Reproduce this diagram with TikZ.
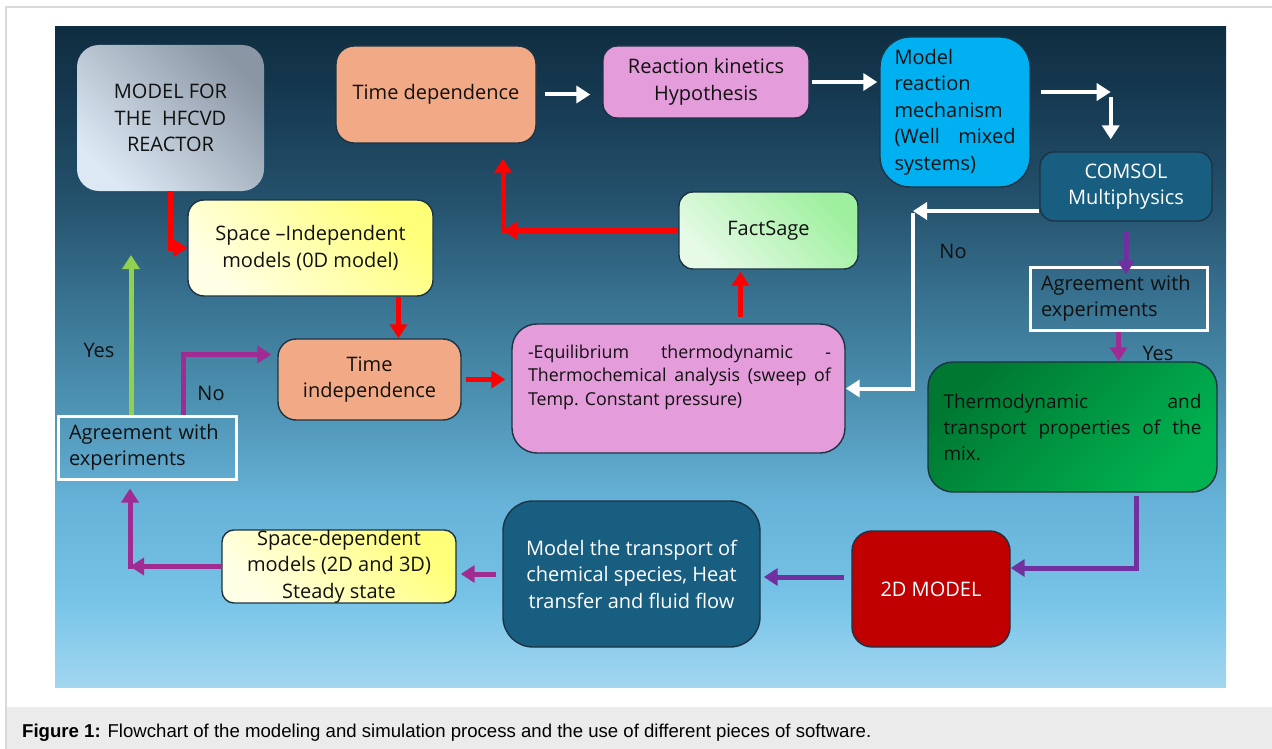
\documentclass[tikz,border=0pt]{standalone}
\usepackage{fontspec}
\setmainfont{Open Sans}
\newfontfamily\capfont{Liberation Sans}
\usetikzlibrary{arrows.meta}
\definecolor{navyline}{HTML}{1C3344}
\definecolor{salmon}{HTML}{F2A985}
\definecolor{orchid}{HTML}{E49CDB}
\definecolor{cyanbox}{HTML}{00B0F0}
\definecolor{tealbox}{HTML}{185E80}
\definecolor{darkred}{HTML}{C00000}
\definecolor{arrred}{HTML}{FF0000}
\definecolor{purp}{HTML}{7030A0}
\definecolor{magp}{HTML}{A02B93}
\definecolor{lgreen}{HTML}{92D050}
\definecolor{bg0}{HTML}{A2D6F0}
\definecolor{bg1}{HTML}{78C4E8}
\definecolor{bg2}{HTML}{66B2D8}
\definecolor{bg3}{HTML}{4C90B0}
\definecolor{bg4}{HTML}{387290}
\definecolor{bg5}{HTML}{24516C}
\definecolor{bg6}{HTML}{163A52}
\definecolor{bg7}{HTML}{0F2D40}
\definecolor{capgrey}{HTML}{EBEBEB}
\definecolor{framegrey}{HTML}{D9D9D9}
\definecolor{txt}{HTML}{111111}
\definecolor{hfdark}{HTML}{8A96A3}
\definecolor{hflight}{HTML}{DCE9F5}
\pgfdeclareverticalshading{bgshade}{100bp}{color(0bp)=(bg0); color(25bp)=(bg0); color(31.5bp)=(bg1); color(39bp)=(bg2); color(47bp)=(bg3); color(54.5bp)=(bg4); color(62bp)=(bg5); color(69.5bp)=(bg6); color(75bp)=(bg7); color(100bp)=(bg7)}
\tikzset{
  every node/.style={font=\fontsize{20}{26.5}\selectfont, text=txt},
  box/.style={draw=navyline, line width=1.4pt, inner sep=0pt, align=center},
  agbox/.style={draw=white, line width=3pt, inner sep=0pt},
  tip/.style={-{Triangle[width=17pt,length=14pt]}},
  rarr/.style={tip, draw=arrred, line width=5pt},
  warr/.style={tip, draw=white, line width=4pt},
  parr/.style={tip, draw=purp, line width=5pt},
  marr/.style={tip, draw=magp, line width=5pt},
  garr/.style={tip, draw=lgreen, line width=5pt},
  lbl/.style={font=\fontsize{20}{22}\selectfont},
}
\begin{document}
\begin{tikzpicture}[x=1pt,y=-1pt]
\useasboundingbox (0,0) rectangle (1272,749);
\fill[white] (0,0) rectangle (1272,749);
\fill[capgrey] (7,707) rectangle (1272,749);
\draw[framegrey, line width=1.5pt] (1272,7) -- (6,7) -- (6,749);
\shade[shading=bgshade] (55,27) rectangle (1226,687);

% nodes
\node[inner sep=0pt, rounded corners=22pt, minimum width=187pt, minimum height=146pt,
      top color=hfdark, bottom color=hflight, shading angle=-45,
      align=center] (hf) at (170.5,118) {MODEL FOR\\THE\ \ HFCVD\\REACTOR};
\node[box, rounded corners=18pt, fill=salmon, minimum width=200pt, minimum height=97pt] (td) at (436,94.5) {Time dependence};
\node[box, rounded corners=14pt, fill=orchid, minimum width=206pt, minimum height=72pt] (rk) at (706,82) {Reaction kinetics\\Hypothesis};
\node[box, rounded corners=30pt, fill=cyanbox, minimum width=150pt, minimum height=150pt] (mr) at (955,112) {};
\node[text width=121pt, align=justify, inner sep=0pt] (mrt) at (mr.center) {Model\linebreak reaction\linebreak mechanism\linebreak (Well mixed\linebreak systems)};
\node[box, rounded corners=14pt, fill=tealbox, minimum width=172pt, minimum height=69pt, text=white] (cs) at (1126,186.5) {COMSOL\\Multiphysics};
\node[box, rounded corners=14pt, minimum width=179pt, minimum height=77pt,
      top color={rgb,255:red,158;green,240;blue,158}, bottom color={rgb,255:red,230;green,250;blue,230}, shading angle=-45] (fs) at (768.5,230.5) {FactSage};
\node[box, rounded corners=16pt, minimum width=245pt, minimum height=96pt,
      top color={rgb,255:red,255;green,255;blue,120}, bottom color={rgb,255:red,255;green,255;blue,230}, shading angle=-45] (si) at (310.5,248) {Space –Independent\\models (0D model)};
\node[agbox, minimum width=177pt, minimum height=63pt] (agR) at (1118.5,298.5) {};
\node[text width=155pt, align=left, inner sep=0pt] (agRt) at (agR.center) {Agreement with\\experiments};
\node[box, rounded corners=18pt, fill=salmon, minimum width=183pt, minimum height=81pt] (ti) at (369.5,379.5) {Time\\independence};
\node[box, rounded corners=25pt, fill=orchid, minimum width=333pt, minimum height=129pt] (eq) at (678.5,388.5) {};
\node[text width=303pt, align=justify, inner sep=0pt, font=\fontsize{17.8}{23.5}\selectfont] (eqt) at (679.5,377) {-Equilibrium thermodynamic -\linebreak Thermochemical analysis (sweep of\linebreak Temp. Constant pressure)};
\node[agbox, minimum width=178pt, minimum height=63pt] (agL) at (147,447.5) {};
\node[text width=156pt, align=left, inner sep=0pt] (agLt) at (agL.center) {Agreement with\\experiments};
\node[box, rounded corners=25pt, minimum width=289pt, minimum height=130pt,
      top color={rgb,255:red,0;green,120;blue,50}, bottom color={rgb,255:red,0;green,178;blue,80}, shading angle=45] (th) at (1072.5,427) {};
\node[text width=258pt, align=justify, inner sep=0pt, font=\fontsize{19}{26}\selectfont] (tht) at (th.center) {Thermodynamic and\linebreak transport properties of the\linebreak mix.};
\node[box, rounded corners=20pt, fill=darkred, minimum width=158pt, minimum height=116pt, text=white] (d2) at (931,589) {2D MODEL};
\node[box, rounded corners=30pt, fill=tealbox, minimum width=257pt, minimum height=146pt, text=white] (mt) at (631.5,574) {Model the transport of\\chemical species, Heat\\transfer and fluid flow};
\node[box, rounded corners=12pt, minimum width=234pt, minimum height=73pt,
      top color={rgb,255:red,255;green,255;blue,120}, bottom color={rgb,255:red,255;green,255;blue,230}, shading angle=-45] (sd) at (339,566.5) {Space-dependent\\models (2D and 3D)\\Steady state};

% labels
\node[lbl] (no1) at (953,251) {No};
\node[lbl] (yes1) at (1158,353) {Yes};
\node[lbl] (yes2) at (99,350) {Yes};
\node[lbl] (no2) at (211,393) {No};

% red arrows
\draw[rarr] (hf.south) |- (si.west);
\draw[rarr] ([xshift=88pt]si.south) -- ([xshift=88pt]si.south |- ti.north);
\draw[rarr] ([xshift=4pt]ti.east) -- ([xshift=-6pt]ti.east -| eq.west);
\draw[rarr] ([xshift=62pt,yshift=6pt]eq.north) -- ([xshift=62pt,yshift=-2pt]eq.north |- fs.south);
\coordinate (fcorner) at ([xshift=67pt]td.south |- fs.west);
\draw[rarr] (fs.west) -- (fcorner);
\draw[rarr] ([yshift=-2.5pt]fcorner) -- ([xshift=67pt,yshift=-15pt]td.south);

% white arrows
\draw[warr] ([xshift=8pt]td.east) -- ([xshift=-12pt]td.east -| rk.west);
\draw[warr] ([xshift=2pt]rk.east) -- ([xshift=-2pt]rk.east -| mr.west);
\coordinate (wc) at ([xshift=80pt,yshift=20pt]mr.east);
\draw[warr] ([xshift=10pt,yshift=20pt]mr.east) -- (wc);
\draw[warr] ([yshift=-5pt]wc) -- ([yshift=12pt]wc |- cs.north);
\coordinate (noc) at (913,211);
\draw[warr] ([yshift=-24.5pt]cs.west) -- (noc);
\draw[warr] ([yshift=-2pt]noc) |- (eq.east);

% purple arrows
\draw[parr] ([yshift=-9pt]cs.south) -- ([yshift=-9pt]cs.south |- agR.north);
\draw[marr] (agR.south) -- (agR.south |- th.north);
\draw[parr] ([xshift=64pt,yshift=-3pt]th.south) |- ([yshift=21pt]d2.east);
\draw[parr] ([xshift=-7pt,yshift=12pt]d2.west) -- ([xshift=3pt,yshift=12pt]d2.west -| mt.east);
\draw[marr] ([xshift=-6pt]mt.west) -- ([xshift=4pt]mt.west -| sd.east);
\coordinate (sc) at ([xshift=-17pt]agL.south |- sd.west);
\draw[marr] (sd.west) -- (sc);
\draw[marr] ([yshift=-2.5pt]sc) -- ([xshift=-17pt,yshift=-8pt]agL.south);
\draw[marr] ([xshift=36pt]agL.north) |- ([xshift=-6pt,yshift=25pt]ti.west);
\coordinate (gtop) at (131,255);
\draw[garr] ([xshift=-16pt]agL.north) -- (gtop);

% caption
\node[anchor=base west, inner sep=0pt, font=\capfont\fontsize{18.6}{21}\selectfont, text=black] (cap) at (22,737)
  {\textbf{Figure 1:} Flowchart of the modeling and simulation process and the use of different pieces of software.};
\end{tikzpicture}
\end{document}
